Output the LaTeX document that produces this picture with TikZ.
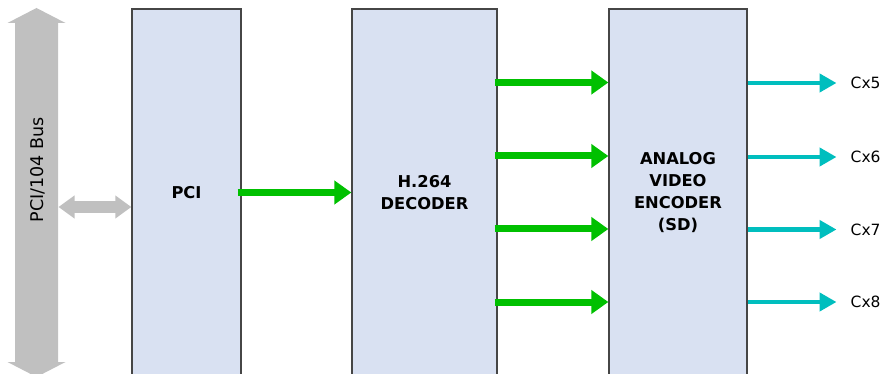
\documentclass[tikz,border=0pt]{standalone}
\usepackage{fontspec}
\setmainfont{DejaVu Sans}
\usetikzlibrary{arrows.meta}
\definecolor{boxfill}{RGB}{217,225,242}
\definecolor{boxline}{RGB}{70,70,70}
\definecolor{grn}{RGB}{0,192,0}
\definecolor{cyn}{RGB}{0,190,190}
\definecolor{busgray}{RGB}{192,192,192}
\tikzset{
  blockbox/.style={draw=boxline, line width=1.3pt, fill=boxfill, minimum height=367pt, inner sep=0pt, align=center, font=\bfseries\fontsize{16.3}{22}\selectfont},
  greenarrow/.style={draw=grn, line width=7pt, -{Triangle[length=17pt,width=23pt]}},
  cyanarrow/.style={draw=cyn, line width=4.5pt, -{Triangle[length=17pt,width=18pt]}},
  busarrow/.style={draw=busgray, line width=12pt, {Triangle[length=16pt,width=22pt]}-{Triangle[length=16pt,width=22pt]}},
  outlabel/.style={anchor=west, inner sep=0pt, font=\fontsize{15.5}{18}\selectfont},
}
\begin{document}
\begin{tikzpicture}[x=1pt,y=-1pt]
\useasboundingbox (0,0) rectangle (881,374);
% bus
\fill[busgray] (36.5,8) -- (65.5,23) -- (58,23) -- (58,362) -- (65.5,362) -- (36.5,377) -- (7.5,362) -- (15,362) -- (15,23) -- (7.5,23) -- cycle;
\node[rotate=90, font=\fontsize{17.5}{20}\selectfont] (bus) at (37.5,170) {PCI/104 Bus};
\coordinate (busR) at (58.5,207);
% blocks
\node[blockbox, minimum width=109pt] (pci) at (186.5,192.5) {PCI};
\node[blockbox, minimum width=145pt] (dec) at (424.5,192.5) {H.264\\DECODER};
\node[blockbox, minimum width=138pt] (enc) at (678,192.5) {ANALOG\\VIDEO\\ENCODER\\(SD)};
% connectors
\draw[busarrow] (busR) -- (pci.west |- busR);
\draw[greenarrow] ([xshift=-4pt]pci.east |- 0,192.5) -- (dec.west |- 0,192.5);
\foreach \y in {82.5,156,229,302}{
  \draw[greenarrow] ([xshift=-3pt]dec.east |- 0,\y) -- (enc.west |- 0,\y);
}
\foreach \y/\n in {83/5,157/6,229.5/7,302/8}{
  \coordinate (c\n) at (850.5,\y);
  \draw[cyanarrow] (enc.east |- 0,\y) -- ([xshift=-14pt]c\n);
  \node[outlabel] (l\n) at (c\n) {Cx\n};
}
\end{tikzpicture}
\end{document}
